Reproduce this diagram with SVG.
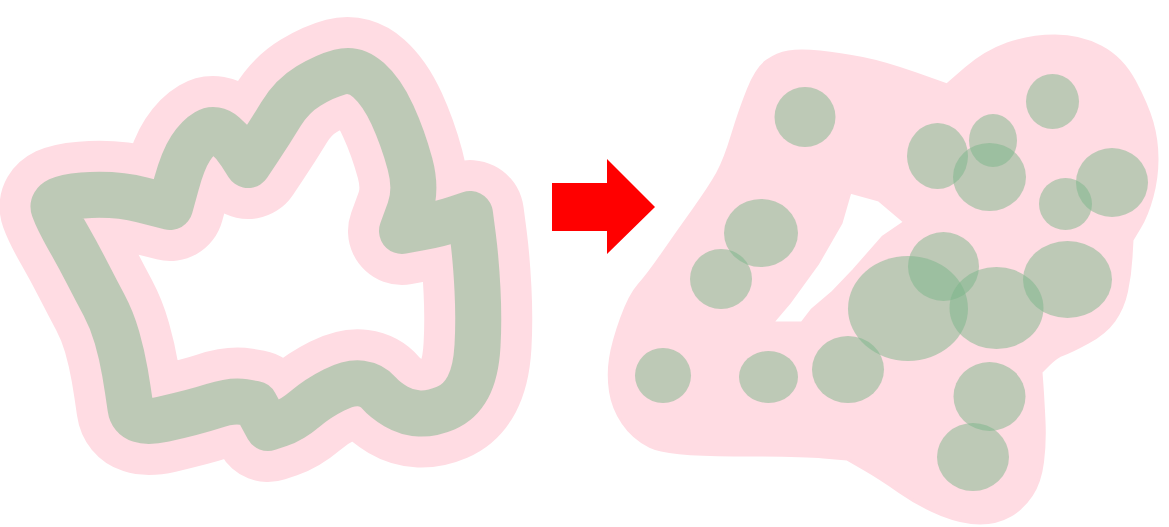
<svg xmlns="http://www.w3.org/2000/svg" xmlns:xlink="http://www.w3.org/1999/xlink" width="1169" height="527" viewBox="0 0 1169 527">
<defs>
<style>
.pinkline{fill:none;stroke:#ffdce3;stroke-width:108;stroke-linejoin:round;stroke-linecap:round}
.greenline{fill:none;stroke:#7bb589;stroke-opacity:0.5;stroke-width:46;stroke-linejoin:round;stroke-linecap:round}
.pinkfill{fill:#ffdce3;stroke:#ffdce3;stroke-width:3;stroke-linejoin:round;fill-rule:evenodd}
.dot{fill:#7bb589;fill-opacity:0.5}
.arrow{fill:#ff0000}
</style>
<path id="loop" d="M 54,209 Q 50,198 82.5,195.5 Q 115,193 142.5,200 L 170,207 L 176.5,183.5 Q 183,160 190.5,148.5 Q 198,137 206.5,132 Q 215,127 224.5,135 Q 234,143 241,154 L 248,165 L 259,148.5 Q 270,132 281,114 Q 292,96 308.5,86 Q 325,76 340,72 Q 355,68 368.5,80 Q 382,92 392.5,115 Q 403,138 410,164 Q 417,190 409.5,210.5 L 402,231 L 421,227.5 Q 440,224 455,219 L 470,214 L 473,237 Q 476,260 477.5,290 Q 479,320 477.5,346 Q 476,372 468,387 Q 460,402 446,408 Q 432,414 419.5,413.5 Q 407,413 396,406.5 Q 385,400 378.5,392.5 Q 372,385 361,383.5 Q 350,382 334,390 Q 318,398 305,409 Q 292,420 280,424 L 268,428 L 255,404 L 243.5,402 Q 232,400 213.5,406 Q 195,412 164,419 Q 133,426 130.5,408 Q 128,390 125,372.5 Q 122,355 117,337.5 Q 112,320 104,305 Q 96,290 87,272.5 Q 78,255 68,237.5 Q 58,220 54,209 Z"/>
</defs>
<rect width="1169" height="527" fill="#ffffff"/>
<g id="before">
<use xlink:href="#loop" class="pinkline"/>
<use xlink:href="#loop" class="greenline"/>
</g>
<g id="arrow">
<polygon class="arrow" points="552,183 607,183 607,159 655,207 607,254 607,231 552,231"/>
</g>
<g id="after">
<path class="pinkfill" d="M 788.5,52 Q 800,50 820,52 Q 840,54 862.5,58.5 Q 885,63 916,74 L 947,85 L 966,68.5 Q 985,52 1007.5,44 Q 1030,36 1055,36 Q 1080,36 1101,47 Q 1122,58 1134.5,81.5 Q 1147,105 1152,122.5 Q 1157,140 1157,159 Q 1157,178 1152,196.5 Q 1147,215 1139.5,227.5 L 1132,240 L 1131,257.5 Q 1130,275 1126.5,291.5 Q 1123,308 1114,320.5 Q 1105,333 1087.5,342.5 Q 1070,352 1063.5,354 Q 1057,356 1049,364 L 1041,372 L 1042,386 Q 1043,400 1044,421 Q 1045,442 1042.5,462 Q 1040,482 1031.5,495 Q 1023,508 1010,515.5 Q 997,523 980,523 Q 963,523 941.5,514.5 Q 920,506 900,492 Q 880,478 863.5,468.5 L 847,459 L 823.5,457 Q 800,455 733.5,455 Q 667,455 650,446.5 Q 633,438 623,423 Q 613,408 610.5,391.5 Q 608,375 610.5,358.5 Q 613,342 621.5,318.5 Q 630,295 639,285 Q 648,275 662.5,254 Q 677,233 693.5,210 Q 710,187 717.5,173.5 Q 725,160 732.5,135 Q 740,110 748.5,89 Q 757,68 767,61 Q 777,54 788.5,52 Z M 850,192 L 879,200 L 905,222 L 883,237 L 854,270 L 832,293 L 812,310 L 802,323 L 772,323 L 789,303 L 818,263 L 841,223 Z"/>
<g id="circles">
<ellipse class="dot" cx="805" cy="117" rx="30.5" ry="30"/>
<ellipse class="dot" cx="761" cy="233" rx="37" ry="34"/>
<ellipse class="dot" cx="721" cy="279" rx="31" ry="30"/>
<ellipse class="dot" cx="663" cy="375.5" rx="28" ry="27.5"/>
<ellipse class="dot" cx="768.5" cy="377" rx="29.5" ry="26"/>
<ellipse class="dot" cx="848" cy="369.5" rx="36" ry="33.5"/>
<ellipse class="dot" cx="908" cy="308.5" rx="60" ry="52.5"/>
<ellipse class="dot" cx="937.5" cy="156" rx="30.5" ry="33"/>
<ellipse class="dot" cx="993" cy="140.5" rx="24" ry="26.5"/>
<ellipse class="dot" cx="989.5" cy="177" rx="36.5" ry="34"/>
<ellipse class="dot" cx="1052.5" cy="101.5" rx="26.5" ry="27.5"/>
<ellipse class="dot" cx="1065.5" cy="204" rx="26.5" ry="26"/>
<ellipse class="dot" cx="1112" cy="182.5" rx="36" ry="34.5"/>
<ellipse class="dot" cx="943.5" cy="266.5" rx="35.5" ry="34.5"/>
<ellipse class="dot" cx="996.5" cy="308" rx="47" ry="41"/>
<ellipse class="dot" cx="1067.5" cy="279.5" rx="44.5" ry="38.5"/>
<ellipse class="dot" cx="989.5" cy="396.5" rx="36" ry="34.5"/>
<ellipse class="dot" cx="973" cy="457" rx="36" ry="34"/>
</g>
</g>
</svg>
